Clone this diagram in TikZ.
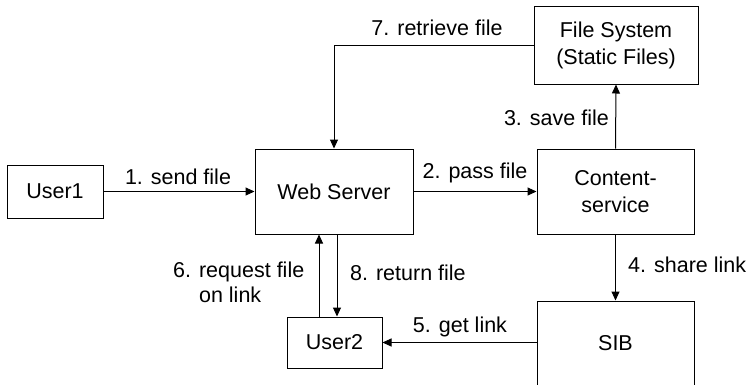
\documentclass[tikz,border=0pt]{standalone}
\usepackage{fontspec}
\setmainfont{Liberation Sans}
\usetikzlibrary{arrows.meta}
\begin{document}
\begin{tikzpicture}[x=1pt,y=-1pt,
  every node/.style={font=\fontsize{21.5}{27}\selectfont},
  box/.style={draw, line width=1pt, align=center, inner sep=0pt},
  conn/.style={line width=1pt, -{Triangle[length=9pt,width=8pt]}},
  lbl/.style={inner sep=0pt}]
\useasboundingbox (0,0) rectangle (750,384);
\fill[white] (0,0) rectangle (750,384);
\node[box, minimum width=96pt, minimum height=53pt] (u1) at (55,191.5) {User1};
\node[box, minimum width=158pt, minimum height=85pt] (web) at (334,191.5) {Web Server};
\node[box, minimum width=157pt, minimum height=85pt] (cs) at (615.5,191.5) {Content-\\service};
\node[box, minimum width=164pt, minimum height=78pt] (fs) at (616,45) {File System\\(Static Files)};
\node[box, minimum width=157pt, minimum height=84pt] (sib) at (615.5,343) {SIB};
\node[box, minimum width=95pt, minimum height=51pt] (u2) at (334.5,342.5) {User2};
\coordinate (w6) at (319,0);
\coordinate (w8) at (337,0);
\draw[conn] (u1.east) -- (web.west);
\draw[conn] (web.east) -- (cs.west);
\draw[conn] (cs.north) -- (fs.south);
\draw[conn] (cs.south) -- (sib.north);
\draw[conn] (sib.west |- u2.east) -- (u2.east);
\draw[conn] (fs.west) -| (web.north);
\draw[conn] (w6 |- u2.north) -- (w6 |- web.south);
\draw[conn] (w8 |- web.south) -- (w8 |- u2.north);
\node[lbl] (l1) at (178,177) {1. send file};
\node[lbl] (l2) at (475,173) {2. pass file};
\node[lbl, anchor=east] (l3) at (609,118) {3. save file};
\node[lbl, anchor=west] (l4) at (628,265) {4. share link};
\node[lbl] (l5) at (460,327) {5. get link};
\node[lbl, anchor=west, align=left, font=\fontsize{21.5}{25}\selectfont] (l6) at (173,282.5) {6. request file\\\phantom{6. }on link};
\node[lbl] (l7) at (437,28) {7. retrieve file};
\node[lbl, anchor=west] (l8) at (350,273) {8. return file};
\end{tikzpicture}
\end{document}
